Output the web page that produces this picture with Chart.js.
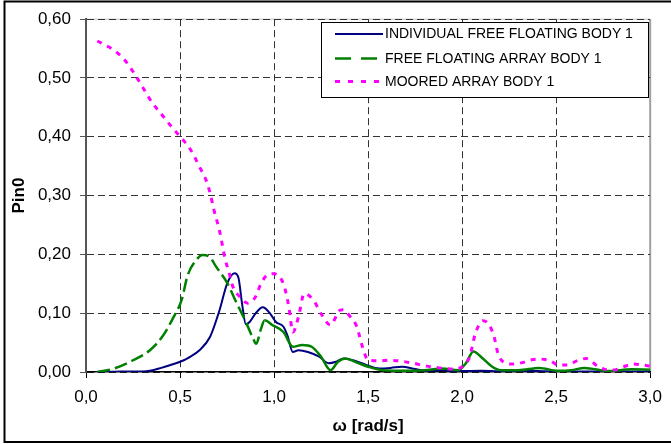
<!DOCTYPE html>
<html>
<head>
<meta charset="utf-8">
<title>Pin0</title>
<script src="https://cdn.jsdelivr.net/npm/chart.js@4.4.1/dist/chart.umd.min.js"></script>
<style>
    html, body { margin: 0; padding: 0; background: #fff; }
    #wrap { width: 671px; height: 444px; }
</style>
</head>
<body>
<div id="wrap"><canvas id="pinChart" width="671" height="444"></canvas></div>
<script>
// values (omega in rad/s, Pin0)
var omegaIndividual = [0.05, 0.15, 0.25, 0.30, 0.34, 0.40, 0.45, 0.52, 0.56, 0.60, 0.66, 0.71, 0.75, 0.79, 0.81, 0.83, 0.85, 0.87, 0.90, 0.94, 0.98, 1.01, 1.05, 1.07, 1.10, 1.13, 1.18, 1.24, 1.29, 1.33, 1.37, 1.42, 1.49, 1.56, 1.62, 1.68, 1.75, 1.82, 1.89, 1.98, 2.1, 2.2, 2.3, 2.5, 2.7, 2.9, 3.0];
var pinIndividual = [0, 0.0005, 0.001, 0.001, 0.002, 0.007, 0.012, 0.020, 0.027, 0.036, 0.060, 0.105, 0.150, 0.168, 0.161, 0.116, 0.081, 0.085, 0.099, 0.110, 0.099, 0.085, 0.077, 0.063, 0.034, 0.037, 0.034, 0.026, 0.015, 0.0175, 0.023, 0.020, 0.012, 0.006, 0.007, 0.009, 0.005, 0.002, 0.003, 0.0015, 0.002, 0.001, 0.002, 0.001, 0.001, 0.001, 0.001];

var omegaFreeArray = [0.06, 0.15, 0.25, 0.34, 0.41, 0.46, 0.51, 0.54, 0.59, 0.62, 0.66, 0.69, 0.75, 0.80, 0.85, 0.89, 0.905, 0.93, 0.95, 0.99, 1.05, 1.10, 1.15, 1.20, 1.25, 1.30, 1.34, 1.38, 1.44, 1.50, 1.58, 1.70, 1.80, 1.89, 1.98, 2.02, 2.06, 2.11, 2.16, 2.21, 2.30, 2.41, 2.51, 2.58, 2.65, 2.78, 2.90, 3.00];
var pinFreeArray = [0, 0.006, 0.020, 0.037, 0.062, 0.090, 0.124, 0.164, 0.192, 0.199, 0.195, 0.180, 0.152, 0.118, 0.085, 0.056, 0.048, 0.073, 0.088, 0.080, 0.068, 0.043, 0.046, 0.043, 0.026, 0.003, 0.0175, 0.023, 0.016, 0.009, 0.003, 0.002, 0.003, 0.006, 0.003, 0.015, 0.035, 0.023, 0.009, 0.003, 0.003, 0.007, 0.002, 0.003, 0.007, 0.0017, 0.0045, 0.004];

var omegaMoored = [0.06, 0.12, 0.17, 0.21, 0.26, 0.30, 0.35, 0.41, 0.46, 0.51, 0.56, 0.60, 0.64, 0.66, 0.68, 0.71, 0.74, 0.76, 0.78, 0.82, 0.86, 0.90, 0.93, 0.96, 1.00, 1.05, 1.07, 1.08, 1.10, 1.13, 1.16, 1.21, 1.25, 1.30, 1.35, 1.37, 1.40, 1.44, 1.47, 1.50, 1.56, 1.61, 1.66, 1.74, 1.81, 1.88, 1.95, 2.00, 2.04, 2.07, 2.11, 2.14, 2.17, 2.19, 2.22, 2.27, 2.32, 2.36, 2.41, 2.47, 2.51, 2.56, 2.61, 2.66, 2.72, 2.76, 2.81, 2.86, 2.91, 2.96, 3.00];
var pinMoored = [0.563, 0.553, 0.542, 0.529, 0.506, 0.485, 0.459, 0.435, 0.415, 0.397, 0.376, 0.351, 0.325, 0.304, 0.276, 0.240, 0.192, 0.170, 0.146, 0.127, 0.117, 0.127, 0.150, 0.164, 0.167, 0.150, 0.125, 0.108, 0.068, 0.094, 0.133, 0.122, 0.099, 0.080, 0.105, 0.106, 0.096, 0.077, 0.043, 0.020, 0.019, 0.020, 0.019, 0.015, 0.010, 0.007, 0.005, 0.009, 0.026, 0.065, 0.087, 0.082, 0.060, 0.032, 0.017, 0.0135, 0.016, 0.020, 0.022, 0.019, 0.012, 0.012, 0.019, 0.023, 0.010, 0.0045, 0.0035, 0.009, 0.0135, 0.012, 0.010];

var seriesNames = ['INDIVIDUAL FREE FLOATING BODY 1', 'FREE FLOATING ARRAY BODY 1', 'MOORED ARRAY BODY 1'];
var xTicks = [0, 0.5, 1.0, 1.5, 2.0, 2.5, 3.0];
var yTicks = [0, 0.1, 0.2, 0.3, 0.4, 0.5, 0.6];

var FONT = "'Liberation Sans', Arial, sans-serif";

function toPoints(xs, ys) {
    var pts = [];
    for (var i = 0; i < xs.length; i++) {
        pts.push({x: xs[i], y: ys[i]});
    }
    return pts;
}

// frame, plot border lines, legend box
var decorations = {
    id: 'decorations',
    beforeDraw: function (chart) {
        var ctx = chart.ctx, a = chart.chartArea;
        ctx.save();
        ctx.fillStyle = '#fff';
        ctx.fillRect(0, 0, chart.width, chart.height);
        ctx.strokeStyle = '#000';
        ctx.lineWidth = 2;
        ctx.beginPath();
        ctx.moveTo(chart.width + 2, 1.5);
        ctx.lineTo(4.5, 1.5);
        ctx.lineTo(4.5, 442);
        ctx.lineTo(chart.width + 2, 442);
        ctx.stroke();
        ctx.strokeStyle = '#c0c0c0';
        ctx.lineWidth = 1;
        ctx.beginPath();
        ctx.moveTo(a.left, a.top);
        ctx.lineTo(a.right, a.top);
        ctx.stroke();
        ctx.strokeStyle = '#a0a0a0';
        ctx.lineWidth = 2;
        ctx.beginPath();
        ctx.moveTo(a.right, a.top);
        ctx.lineTo(a.right, a.bottom);
        ctx.stroke();
        ctx.restore();
    },
    afterDraw: function (chart) {
        var ctx = chart.ctx;
        var rows = [34, 58.5, 81.5];
        var dashes = [[], [16, 10], [5, 8]];
        var ends = [383, 378, 381];
        ctx.save();
        ctx.fillStyle = '#fff';
        ctx.fillRect(321, 22, 327, 75);
        ctx.strokeStyle = '#000';
        ctx.lineWidth = 1;
        ctx.strokeRect(321.5, 22.5, 327, 75);
        ctx.font = '14px ' + FONT;
        ctx.textBaseline = 'middle';
        ctx.textAlign = 'left';
        chart.data.datasets.forEach(function (ds, i) {
            ctx.save();
            ctx.strokeStyle = ds.borderColor;
            ctx.lineWidth = ds.borderWidth;
            ctx.setLineDash(dashes[i]);
            ctx.beginPath();
            ctx.moveTo(335, rows[i]);
            ctx.lineTo(ends[i], rows[i]);
            ctx.stroke();
            ctx.restore();
            ctx.fillStyle = '#000';
            ctx.fillText(seriesNames[i], 385, rows[i] + 0.5);
        });
        ctx.restore();
    }
};

var ctx = document.getElementById('pinChart');
var pinChart = new Chart(ctx, {
    type: 'line',
    data: {
        datasets: [
            {
                label: seriesNames[0],
                data: toPoints(omegaIndividual, pinIndividual),
                borderColor: '#000080',
                borderWidth: 2,
                order: 3
            },
            {
                label: seriesNames[1],
                data: toPoints(omegaFreeArray, pinFreeArray),
                borderColor: '#008000',
                borderWidth: 2.5,
                order: 2,
                segment: {
                    borderDash: function (c) { return c.p0.parsed.x < 0.95 ? [13, 5] : []; }
                }
            },
            {
                label: seriesNames[2],
                data: toPoints(omegaMoored, pinMoored),
                borderColor: '#ff00ff',
                borderWidth: 3,
                borderDash: [5, 6],
                order: 1
            }
        ]
    },
    options: {
        responsive: false,
        animation: false,
        devicePixelRatio: 1,
        layout: {
            padding: {left: 0, top: 17.5, right: 19, bottom: 0}
        },
        elements: {
            point: {radius: 0},
            line: {cubicInterpolationMode: 'monotone', fill: false}
        },
        plugins: {
            legend: {display: false},
            tooltip: {enabled: false}
        },
        scales: {
            x: {
                type: 'linear',
                min: 0,
                max: 3,
                afterBuildTicks: function (scale) {
                    scale.ticks = xTicks.map(function (v) { return {value: v}; });
                },
                afterFit: function (scale) { scale.height = 72; },
                ticks: {
                    color: '#000',
                    padding: 9,
                    maxRotation: 0,
                    font: {family: FONT, size: 17},
                    callback: function (v) { return v.toFixed(1).replace('.', ','); }
                },
                grid: {
                    color: function (c) { return c.tick && c.tick.value === 3 ? 'rgba(0,0,0,0)' : '#333'; },
                    tickColor: '#000',
                    tickLength: 6,
                    lineWidth: 1
                },
                border: {color: '#000', width: 1.5, dash: [7, 4]},
                title: {
                    display: true,
                    text: 'ω [rad/s]',
                    color: '#000',
                    padding: {top: 0, bottom: 7},
                    font: {family: FONT, size: 17, weight: 'bold'}
                }
            },
            y: {
                min: 0,
                max: 0.6,
                afterBuildTicks: function (scale) {
                    scale.ticks = yTicks.map(function (v) { return {value: v}; });
                },
                afterFit: function (scale) { scale.width = 86; },
                ticks: {
                    color: '#000',
                    padding: 9,
                    font: {family: FONT, size: 17},
                    callback: function (v) { return v.toFixed(2).replace('.', ','); }
                },
                grid: {
                    color: '#333',
                    tickColor: '#555',
                    tickLength: 6,
                    lineWidth: 1
                },
                border: {color: '#555', width: 2, dash: [7, 4]},
                title: {
                    display: true,
                    text: 'Pin0',
                    color: '#000',
                    padding: {top: 9, bottom: 0},
                    font: {family: FONT, size: 17, weight: 'bold'}
                }
            }
        }
    },
    plugins: [decorations]
});
</script>
</body>
</html>
